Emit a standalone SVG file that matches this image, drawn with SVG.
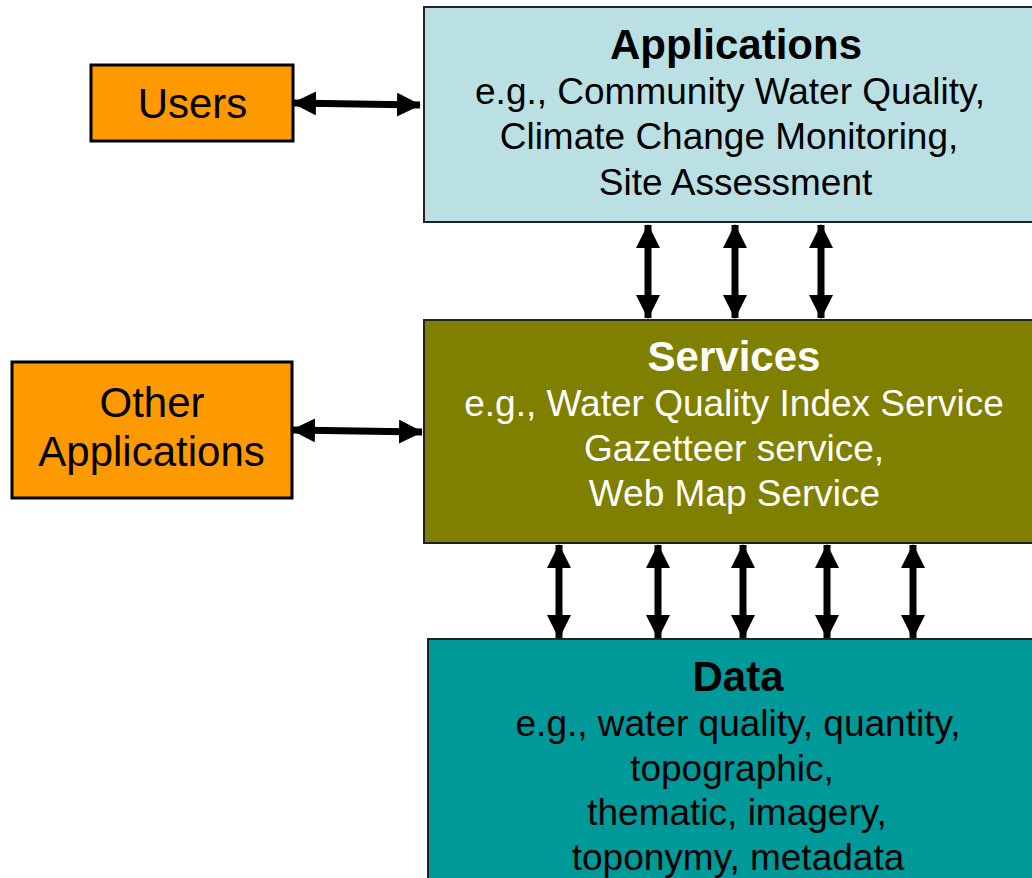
<svg xmlns="http://www.w3.org/2000/svg" width="1032" height="878" viewBox="0 0 1032 878">
  <defs>
    <style>
      .lbl { font-family: "Liberation Sans", Arial, sans-serif; font-size: 37px; text-anchor: middle; }
      .big { font-size: 42px; }
      .ttl { font-family: "Liberation Sans", Arial, sans-serif; font-size: 42px; font-weight: bold; text-anchor: middle; }
      .dark { fill: #000000; }
      .light { fill: #ffffff; }
      .actor { fill: #ff9900; stroke: #000000; stroke-width: 3; }
      .layer { stroke: #222222; stroke-width: 2; }
      .link { fill: none; stroke: #000000; stroke-width: 7; marker-start: url(#head); marker-end: url(#head); }
    </style>
    <marker id="head" viewBox="0 0 24 24" refX="23" refY="12" markerWidth="24" markerHeight="24" markerUnits="userSpaceOnUse" orient="auto-start-reverse">
      <path d="M0,0 L24,12 L0,24 Z" fill="#000000"/>
    </marker>
  </defs>

  <rect width="1032" height="878" fill="#ffffff"/>

  <!-- Application layer -->
  <g id="applications">
    <rect class="layer" x="424" y="7" width="620" height="215" fill="#bbe0e3"/>
    <text class="ttl dark" x="736" y="59">Applications</text>
    <text class="lbl dark" x="730" y="104">e.g., Community Water Quality,</text>
    <text class="lbl dark" x="729" y="149">Climate Change Monitoring,</text>
    <text class="lbl dark" x="735.5" y="195">Site Assessment</text>
  </g>

  <!-- Service layer -->
  <g id="services">
    <rect class="layer" x="424" y="320" width="620" height="223" fill="#808000"/>
    <text class="ttl light" x="734" y="371">Services</text>
    <text class="lbl light" x="734" y="416">e.g., Water Quality Index Service</text>
    <text class="lbl light" x="734" y="461">Gazetteer service,</text>
    <text class="lbl light" x="734.5" y="506">Web Map Service</text>
  </g>

  <!-- Data layer -->
  <g id="data">
    <rect class="layer" x="428" y="639" width="616" height="260" fill="#009999"/>
    <text class="ttl dark" x="738" y="691">Data</text>
    <text class="lbl dark" x="738" y="736">e.g., water quality, quantity,</text>
    <text class="lbl dark" x="732" y="781">topographic,</text>
    <text class="lbl dark" x="737" y="825">thematic, imagery,</text>
    <text class="lbl dark" x="738" y="870">toponymy, metadata</text>
  </g>

  <!-- Actors -->
  <g id="users">
    <rect class="actor" x="91" y="65" width="202" height="76"/>
    <text class="lbl big dark" x="192.5" y="118">Users</text>
  </g>

  <g id="other-applications">
    <rect class="actor" x="12" y="362" width="280" height="136"/>
    <text class="lbl big dark" x="152" y="417">Other</text>
    <text class="lbl big dark" x="151.5" y="466">Applications</text>
  </g>

  <!-- Two-way connectors -->
  <g id="connectors">
    <path class="link" d="M293,103 L420,105"/>
    <path class="link" d="M292,430 L422,432"/>

    <path class="link" d="M648,225 L648,318"/>
    <path class="link" d="M735,225 L735,318"/>
    <path class="link" d="M821,225 L821,318"/>

    <path class="link" d="M559,545 L559,638"/>
    <path class="link" d="M658,545 L658,638"/>
    <path class="link" d="M743,545 L743,638"/>
    <path class="link" d="M827,545 L827,638"/>
    <path class="link" d="M913,545 L913,638"/>
  </g>
</svg>
